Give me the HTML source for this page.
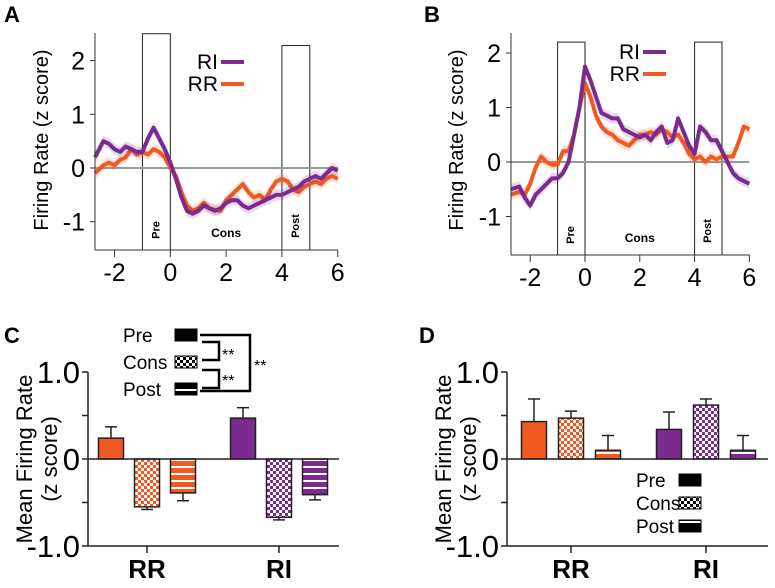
<!DOCTYPE html>
<html><head><meta charset="utf-8">
<style>
html,body{margin:0;padding:0;background:#fff;}
svg{display:block;font-family:"Liberation Sans",Arial,sans-serif;}
</style></head>
<body>
<svg id="fig" width="775" height="588" viewBox="0 0 775 588">
<defs>
<pattern id="chkO" width="6" height="6" patternUnits="userSpaceOnUse"><rect width="6" height="6" fill="#fff"/><rect width="3" height="3" fill="#f05a22"/><rect x="3" y="3" width="3" height="3" fill="#f05a22"/></pattern>
<pattern id="chkP" width="6" height="6" patternUnits="userSpaceOnUse"><rect width="6" height="6" fill="#fff"/><rect width="3" height="3" fill="#7b2a8e"/><rect x="3" y="3" width="3" height="3" fill="#7b2a8e"/></pattern>
<pattern id="chkK" width="6" height="6" patternUnits="userSpaceOnUse"><rect width="6" height="6" fill="#fff"/><rect width="3" height="3" fill="#000"/><rect x="3" y="3" width="3" height="3" fill="#000"/></pattern>
<pattern id="strO" width="6" height="7" patternUnits="userSpaceOnUse"><rect width="6" height="7" fill="#f05a22"/><rect y="4" width="6" height="2" fill="#fff"/></pattern>
<pattern id="strP" width="6" height="7" patternUnits="userSpaceOnUse"><rect width="6" height="7" fill="#7b2a8e"/><rect y="4" width="6" height="2" fill="#fff"/></pattern>
<pattern id="strK" width="6" height="12" patternUnits="userSpaceOnUse"><rect width="6" height="12" fill="#000"/><rect y="5" width="6" height="2" fill="#fff"/></pattern>
</defs>
<g id="root"></g>
</svg>
<script>
// ---- Data: line panels ----
const timesA = [-2.7,-2.4,-2.2,-2.0,-1.8,-1.6,-1.4,-1.2,-1.0,-0.8,-0.6,-0.4,-0.2,0,0.2,0.4,0.6,0.8,1.0,1.2,1.4,1.6,1.8,2.0,2.2,2.4,2.6,2.8,3.0,3.2,3.4,3.6,3.8,4.0,4.2,4.4,4.6,4.8,5.0,5.2,5.4,5.6,5.8,6.0];
const riA = [0.2,0.5,0.45,0.35,0.3,0.4,0.35,0.3,0.3,0.55,0.75,0.55,0.35,0.1,-0.2,-0.55,-0.8,-0.85,-0.8,-0.7,-0.75,-0.8,-0.75,-0.65,-0.6,-0.6,-0.7,-0.75,-0.7,-0.65,-0.6,-0.55,-0.5,-0.5,-0.45,-0.4,-0.35,-0.25,-0.2,-0.15,-0.2,-0.1,0,-0.05];
const rrA = [-0.1,0.05,0.1,0.05,0.15,0.2,0.35,0.25,0.3,0.25,0.35,0.3,0.2,0,-0.15,-0.45,-0.7,-0.8,-0.75,-0.65,-0.75,-0.78,-0.8,-0.6,-0.5,-0.4,-0.3,-0.45,-0.55,-0.5,-0.6,-0.4,-0.25,-0.2,-0.25,-0.4,-0.45,-0.35,-0.3,-0.25,-0.3,-0.2,-0.15,-0.2];
const riB = [-0.5,-0.45,-0.65,-0.8,-0.6,-0.5,-0.4,-0.3,-0.3,-0.2,0,0.5,1.0,1.75,1.5,1.2,0.9,0.85,0.8,0.8,0.6,0.55,0.5,0.45,0.5,0.4,0.55,0.65,0.35,0.4,0.8,0.55,0.3,0.15,0.65,0.55,0.4,0.4,0.2,0,-0.2,-0.3,-0.35,-0.4];
const rrB = [-0.6,-0.55,-0.6,-0.4,-0.1,0.1,0,-0.05,-0.05,0.2,0.2,0.5,1.0,1.45,1.2,0.85,0.65,0.55,0.5,0.4,0.35,0.3,0.4,0.5,0.5,0.55,0.5,0.6,0.55,0.45,0.5,0.35,0.15,0.05,0.1,0,0.1,0.05,0.1,0.1,0.1,0.35,0.65,0.6];
const xTicks = [-2,0,2,4,6];
const yTicksLine = [2,1,0,-1];
// ---- Data: bar panels ----
const barGroups = ["RR","RI"];
const epochs = ["Pre","Cons","Post"];
const barC = [[0.24,-0.55,-0.39],[0.47,-0.67,-0.41]];
const errC = [[0.13,0.03,0.09],[0.12,0.03,0.06]];
const barD = [[0.43,0.47,0.10],[0.34,0.62,0.10]];
const errD = [[0.26,0.08,0.17],[0.20,0.07,0.17]];
const yTicksBar = [1.0,0.5,0,-0.5,-1.0];
const yTickLabelsBar = ["1.0","","0","","-1.0"];

const NS="http://www.w3.org/2000/svg";
const root=document.getElementById('root');
function mk(tag,attrs,parent,text){const e=document.createElementNS(NS,tag);for(const k in attrs)e.setAttribute(k,attrs[k]);if(text!==undefined)e.textContent=text;(parent||root).appendChild(e);return e;}
const ORANGE="#f05a22", PURPLE="#7b2a8e";

function linePanel(cfg){
  const g=mk('g',{});
  
  
  const X=t=>cfg.x0+(t-cfg.tmin)*cfg.sx;
  const Y=v=>cfg.y0-v*cfg.sy;
  const L=mk('text',{x:cfg.lx,y:cfg.ly,'font-size':22,'font-weight':'bold'},g,cfg.letter);
   
  [[-1,0,cfg.preTop,'Pre'],[4,5,cfg.postTop,'Post']].forEach(b=>{
    const r=mk('rect',{x:X(b[0]),y:Y(b[2]),width:X(b[1])-X(b[0]),height:cfg.axisY-Y(b[2]),fill:'none',stroke:'#222','stroke-width':1},g);
     
    const cx=(X(b[0])+X(b[1]))/2, cy=cfg.axisY-(b[3]==='Pre'?20:24);
    const t=mk('text',{x:cx,y:cy,'font-size':11,'font-weight':'bold','text-anchor':'middle',transform:`rotate(-90 ${cx} ${cy})`,'dominant-baseline':'middle'},g,b[3]);
     
  });
  const ct=mk('text',{x:X(2),y:cfg.axisY-13,'font-size':12,'font-weight':'bold','text-anchor':'middle'},g,'Cons');
   
  const z=mk('line',{x1:cfg.x0,x2:X(6),y1:Y(0),y2:Y(0),stroke:'#999','stroke-width':2},g);
   
  [[cfg.rr,ORANGE,'rr'],[cfg.ri,PURPLE,'ri']].forEach(s=>{
    const d=s[0];
    let up='',dn='';
    cfg.times.forEach((t,i)=>{up+=(i?'L':'M')+X(t)+','+Y(d[i]+0.1);});
    for(let i=d.length-1;i>=0;i--)dn+='L'+X(cfg.times[i])+','+Y(d[i]-0.1);
    const band=mk('path',{d:up+dn+'Z',fill:s[1],opacity:0.18},g);
     
    let p='';cfg.times.forEach((t,i)=>{p+=(i?'L':'M')+X(t)+','+Y(d[i]);});
    const ln=mk('path',{d:p,fill:'none',stroke:s[1],'stroke-width':4,'stroke-linejoin':'round'},g);
     
  });
  const ya=mk('line',{x1:cfg.x0,x2:cfg.x0,y1:cfg.axisTop,y2:cfg.axisY,stroke:'#333','stroke-width':1},g);
   
  const xa=mk('line',{x1:cfg.x0,x2:X(6),y1:cfg.axisY,y2:cfg.axisY,stroke:'#333','stroke-width':1},g);
   
  xTicks.forEach(t=>{
    mk('line',{x1:X(t),x2:X(t),y1:cfg.axisY,y2:cfg.axisY+7,stroke:'#333'},g);
    const tl=mk('text',{x:X(t),y:cfg.axisY+31,'font-size':25,'text-anchor':'middle'},g,String(t));
     
  });
  yTicksLine.forEach(v=>{
    mk('line',{x1:cfg.x0-5,x2:cfg.x0,y1:Y(v),y2:Y(v),stroke:'#333'},g);
    const tl=mk('text',{x:cfg.x0-10,y:Y(v)+9,'font-size':25,'text-anchor':'end'},g,String(v));
     
  });
  const yt=mk('text',{x:cfg.ytx,y:cfg.yty,'font-size':20,'text-anchor':'middle',transform:`rotate(-90 ${cfg.ytx} ${cfg.yty})`},g,'Firing Rate (z score)');
   
  [['RI',PURPLE,cfg.legY],['RR',ORANGE,cfg.legY+22]].forEach(l=>{
    const lt=mk('text',{x:cfg.legX,y:l[2]+7,'font-size':21,'text-anchor':'end'},g,l[0]);
     
    const ll=mk('line',{x1:cfg.legX+3,x2:cfg.legX+26,y1:l[2],y2:l[2],stroke:l[1],'stroke-width':4},g);
     
  });
}

linePanel({name:'panel-a',letter:'A',lx:4,ly:22,x0:95,tmin:-2.7,sx:27.9,y0:168,sy:53.7,axisY:250,axisTop:33,preTop:2.5,postTop:2.28,
  times:timesA,ri:riA,rr:rrA,ytx:48,yty:140,legX:218,legY:62});
linePanel({name:'panel-b',letter:'B',lx:424,ly:22,x0:511,tmin:-2.7,sx:27.4,y0:162,sy:54.5,axisY:255,axisTop:33,preTop:2.2,postTop:2.2,
  times:timesA,ri:riB,rr:rrB,ytx:463,yty:140,legX:640,legY:52});

function barPanel(cfg){
  const g=mk('g',{});
  
  
  const Y=v=>cfg.y0-v*cfg.sy;
  const L=mk('text',{x:cfg.lx,y:cfg.ly,'font-size':22,'font-weight':'bold'},g,cfg.letter);
   
  const ya=mk('line',{x1:cfg.x0,x2:cfg.x0,y1:Y(1),y2:Y(-1),stroke:'#222','stroke-width':1.5},g);
   
  const xa=mk('line',{x1:cfg.x0,x2:cfg.x1,y1:Y(-1),y2:Y(-1),stroke:'#222','stroke-width':1.5},g);
   
  yTicksBar.forEach((v,i)=>{
    mk('line',{x1:cfg.x0-6,x2:cfg.x0,y1:Y(v),y2:Y(v),stroke:'#222','stroke-width':1.5},g);
    if(yTickLabelsBar[i]){
      const tl=mk('text',{x:cfg.x0-8,y:Y(v)+11,'font-size':31,'text-anchor':'end'},g,yTickLabelsBar[i]);
       
    }
  });
  const t1=mk('text',{x:cfg.x0-56,y:Y(0),'font-size':22,'text-anchor':'middle',transform:`rotate(-90 ${cfg.x0-56} ${Y(0)})`},g,'Mean Firing Rate');
   
  const t2=mk('text',{x:cfg.x0-31,y:Y(0),'font-size':22,'text-anchor':'middle',transform:`rotate(-90 ${cfg.x0-31} ${Y(0)})`},g,'(z score)');
   
  const fills=[[ORANGE,'url(#chkO)','url(#strO)'],[PURPLE,'url(#chkP)','url(#strP)']];
  barGroups.forEach((gname,gi)=>{
    const cx=cfg.groupX[gi];
    mk('line',{x1:cx,x2:cx,y1:Y(-1),y2:Y(-1)+7,stroke:'#222','stroke-width':1.5},g);
    const gl=mk('text',{x:cx,y:cfg.y0+119,'font-size':26,'font-weight':'bold','text-anchor':'middle'},g,gname);
     
    epochs.forEach((ep,ei)=>{
      const v=cfg.vals[gi][ei], e=cfg.errs[gi][ei];
      const bx=cx+(ei-1)*cfg.gap-cfg.bw/2;
      const top=Math.min(Y(v),Y(0)), h=Math.abs(Y(v)-Y(0));
      const ex=bx+cfg.bw/2, ey=Y(v+(v>=0?e:-e));
      mk('line',{x1:ex,x2:ex,y1:Y(v),y2:ey,stroke:'#222','stroke-width':1.5},g);
      mk('line',{x1:ex-6,x2:ex+6,y1:ey,y2:ey,stroke:'#222','stroke-width':1.5},g);
      const r=mk('rect',{x:bx,y:top,width:cfg.bw,height:h,fill:fills[gi][ei],stroke:'#222','stroke-width':1.5},g);
       
    });
  });
  const zl=mk('line',{x1:cfg.x0,x2:cfg.x1,y1:Y(0),y2:Y(0),stroke:'#222','stroke-width':1.5},g);
   
  const lf=['#000','url(#chkK)','url(#strK)'];
  epochs.forEach((ep,i)=>{
    const y=cfg.legY+i*cfg.legDy;
    const lt=mk('text',{x:cfg.legTX,y:y+7,'font-size':19},g,ep);
     
    const ls=mk('rect',{x:cfg.legSX,y:y-6,width:22,height:12,fill:lf[i],stroke:'#000','stroke-width':1},g);
     
  });
  return g;
}

const gC=barPanel({name:'panel-c',letter:'C',lx:4,ly:343,x0:88,x1:339,y0:459,sy:87,groupX:[147,279],gap:36,bw:25,
  vals:barC,errs:errC,legY:335,legDy:27,legTX:123,legSX:175});
barPanel({name:'panel-d',letter:'D',lx:419,ly:343,x0:507,x1:768,y0:459,sy:87,groupX:[571,706],gap:37,bw:25,
  vals:barD,errs:errD,legY:480,legDy:23,legTX:636,legSX:679});

const br=mk('path',{d:'M200,335 H250 V391 H200 M202,342 H219 V360 H202 M202,370 H219 V388 H202',fill:'none',stroke:'#000','stroke-width':2.5},gC);
 
[[222,360],[222,386],[254,371]].forEach(p=>{
  const s=mk('text',{x:p[0],y:p[1],'font-size':16},gC,'**');
   
});
</script>
</body></html>
